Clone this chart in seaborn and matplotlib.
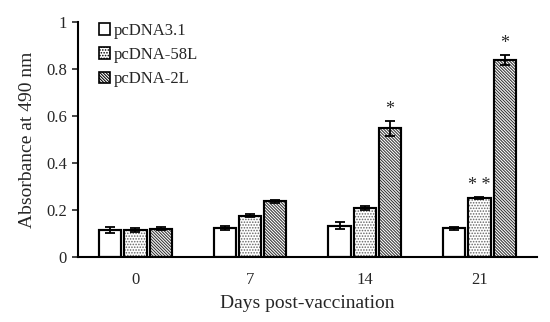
import pandas as pd
import seaborn as sns
import matplotlib.pyplot as plt

# data
days = ["0", "7", "14", "21"]
groups = ["pcDNA3.1", "pcDNA-58L", "pcDNA-2L"]
means_31 = [0.115, 0.122, 0.133, 0.122]
means_58 = [0.115, 0.176, 0.209, 0.250]
means_2l = [0.120, 0.236, 0.547, 0.838]
err_31 = [0.013, 0.008, 0.016, 0.007]
err_58 = [0.010, 0.006, 0.008, 0.004]
err_2l = [0.006, 0.005, 0.033, 0.022]
stars_58 = ["", "", "", "* *"]
stars_2l = ["", "", "*", "*"]

df = pd.DataFrame({
    "day": days * 3,
    "group": [g for g in groups for _ in days],
    "value": means_31 + means_58 + means_2l,
})
errs = [err_31, err_58, err_2l]
stars = [["", "", "", ""], stars_58, stars_2l]

sns.set_theme(style="white")
plt.rcParams["font.family"] = ["Liberation Serif", "DejaVu Serif"]
plt.rcParams["hatch.linewidth"] = 0.75

fig = plt.figure(figsize=(5.5, 3.22), dpi=100)
ax = fig.add_axes([0.142, 0.202, 0.834, 0.730])

sns.barplot(data=df, x="day", y="value", hue="group", order=days, hue_order=groups,
            palette=["white"] * 3, edgecolor="black", linewidth=1.5,
            errorbar=None, width=0.66, gap=0.12, ax=ax)

hatches = ["", "......", "\\" * 11]
hatch_cols = ["black", "#666666", "#333333"]
for cont, h, hc, e, st in zip(ax.containers, hatches, hatch_cols, errs, stars):
    for bar, ee, s in zip(cont, e, st):
        bar.set_hatch(h)
        bar.set_edgecolor(hc)
        # crisp black outline over the hatched fill
        ax.add_patch(plt.Rectangle(bar.get_xy(), bar.get_width(), bar.get_height(),
                                   fill=False, edgecolor="black", linewidth=1.5, zorder=bar.get_zorder() + 0.1))
        x = bar.get_x() + bar.get_width() / 2
        y = bar.get_height()
        ax.errorbar(x, y, yerr=ee, color="black", capsize=3.5, elinewidth=1.3, capthick=1.3, zorder=5)
        if s:
            ax.text(x, y + ee + 0.012, s, ha="center", va="bottom", fontsize=13)

ax.set_ylim(0, 1)
ax.set_xlim(-0.5, 3.5)
ax.set_yticks([0, 0.2, 0.4, 0.6, 0.8, 1])
ax.set_yticklabels(["0", "0.2", "0.4", "0.6", "0.8", "1"])
ax.tick_params(axis="y", left=True, length=4, width=1.2, labelsize=12, pad=4)
ax.tick_params(axis="x", bottom=False, labelsize=12, pad=5)
for sp in ["top", "right"]:
    ax.spines[sp].set_visible(False)
for sp in ["left", "bottom"]:
    ax.spines[sp].set_color("black")
    ax.spines[sp].set_linewidth(1.5)

ax.set_xlabel("Days post-vaccination", fontsize=14, labelpad=5)
ax.set_ylabel("Absorbance at 490 nm", fontsize=14, labelpad=7)

leg = ax.legend(loc="upper left", bbox_to_anchor=(0.03, 1.025), frameon=False, fontsize=12,
                handlelength=0.7, handleheight=0.7, handletextpad=0.2, labelspacing=0.5,
                borderaxespad=0)
for hnd, h in zip(leg.legend_handles, hatches):
    hnd.set_hatch(h)
    hnd.set_edgecolor("black")
    hnd.set_linewidth(1.2)

fig.savefig("out.png", dpi=100)
